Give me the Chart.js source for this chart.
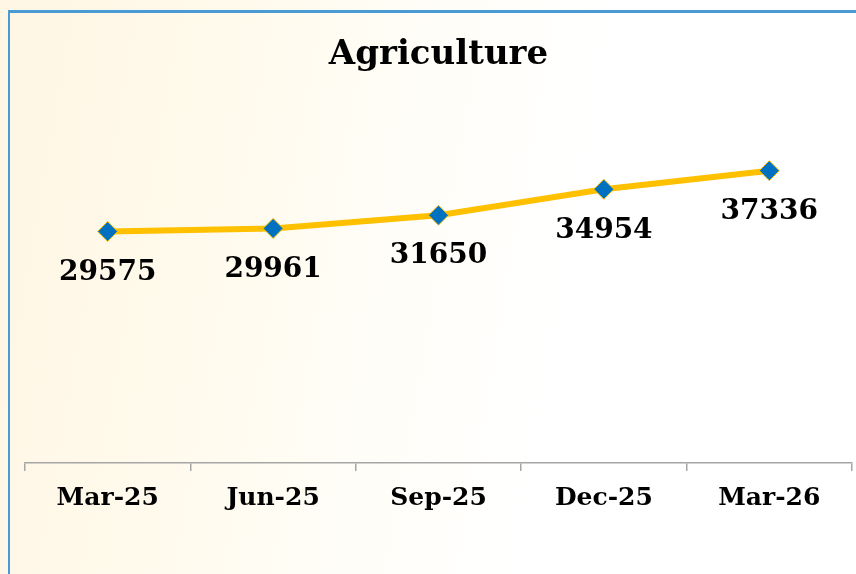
<!DOCTYPE html>
<html>
<head>
<meta charset="utf-8">
<script src="https://cdn.jsdelivr.net/npm/chart.js@4.4.1/dist/chart.umd.min.js"></script>
<style>
  html, body { margin: 0; padding: 0; }
  body {
    width: 856px; height: 574px; overflow: hidden; position: relative;
    background: linear-gradient(100deg, #fff6e4 0%, #fffaec 25%, #fffdf7 45%, #ffffff 65%, #ffffff 100%);
  }
  #frame {
    position: absolute; left: 8px; top: 10px; right: 0; bottom: 0;
    border-left: 2px solid #4a9ad4; border-top: 3px solid #4a9ad4;
  }
  #wrap { position: absolute; left: 0; top: 0; width: 856px; height: 574px; }
</style>
</head>
<body>
<div id="frame"></div>
<div id="wrap"><canvas id="c" width="856" height="574"></canvas></div>
<script>
const categories = ["Mar-25", "Jun-25", "Sep-25", "Dec-25", "Mar-26"];
const agricultureValues = [29575, 29961, 31650, 34954, 37336];
const chartTitle = "Agriculture";

const FONT = "'DejaVu Serif', 'Liberation Serif', serif";

const valueLabels = {
  id: 'valueLabels',
  afterDatasetsDraw(chart) {
    const ctx = chart.ctx;
    const meta = chart.getDatasetMeta(0);
    ctx.save();
    ctx.font = "bold 28px " + FONT;
    ctx.fillStyle = '#000';
    ctx.textAlign = 'center';
    ctx.textBaseline = 'middle';
    meta.data.forEach((pt, i) => {
      ctx.fillText(String(chart.data.datasets[0].data[i]), pt.x, pt.y + 41);
    });
    ctx.restore();
  }
};

new Chart(document.getElementById('c'), {
  type: 'line',
  data: {
    labels: categories,
    datasets: [{
      label: chartTitle,
      data: agricultureValues,
      borderColor: '#ffc000',
      borderWidth: 6,
      pointStyle: 'rectRot',
      pointRadius: 10,
      pointHoverRadius: 10,
      pointBackgroundColor: '#0070c0',
      pointBorderColor: '#ffc000',
      pointBorderWidth: 1,
      tension: 0,
      fill: false
    }]
  },
  options: {
    responsive: false,
    animation: false,
    layout: { autoPadding: false, padding: { left: 25, right: 4, top: 10, bottom: 0 } },
    plugins: {
      legend: { display: false },
      tooltip: { enabled: false },
      title: {
        display: true,
        text: chartTitle,
        color: '#000',
        font: { family: FONT, size: 34, weight: 'bold', lineHeight: 1.2 },
        padding: { top: 25, bottom: 74 }
      }
    },
    scales: {
      x: {
        offset: true,
        grid: { offset: true, drawOnChartArea: false, drawTicks: true, tickLength: 8, color: '#a6a6a6', lineWidth: 1.5 },
        border: { display: true, color: '#a6a6a6', width: 1.5 },
        ticks: { color: '#000', padding: 12, font: { family: FONT, size: 25, weight: 'bold' }, maxRotation: 0 },
        afterFit(scale) { scale.height = 111; scale.paddingLeft = 0; scale.paddingRight = 0; }
      },
      y: {
        display: false,
        min: 0,
        max: 40000
      }
    }
  },
  plugins: [valueLabels]
});
</script>
</body>
</html>
